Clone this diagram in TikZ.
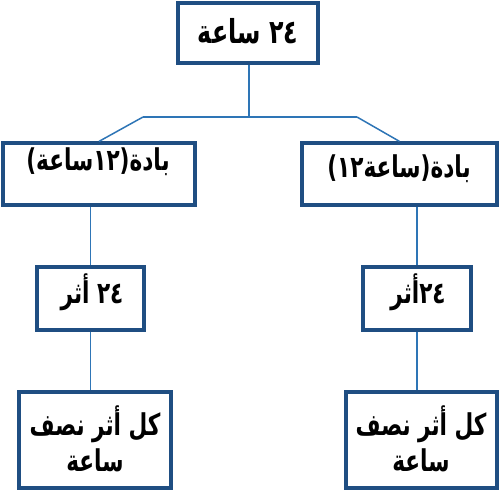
\documentclass[tikz,border=0pt]{standalone}
\usepackage{fontspec}
\TeXXeTstate=1
\newfontfamily\arabicfont[Script=Arabic,FakeStretch=0.72]{DejaVu Sans}
\definecolor{boxblue}{RGB}{31,78,130}
\definecolor{lineblue}{RGB}{46,117,182}
\tikzset{
  box/.style={draw=boxblue, line width=3.2pt, fill=white, rectangle, inner sep=0pt},
  txt/.style={font=\arabicfont\bfseries\fontsize{30}{36}\selectfont, text=black, align=center, inner sep=0pt},
  bigtxt/.style={txt, font=\arabicfont\bfseries\fontsize{33}{40}\selectfont},
  conn/.style={draw=lineblue, line width=1.5pt},
}
\begin{document}
\begin{tikzpicture}[x=1pt,y=-1pt]
\useasboundingbox (0,0) rectangle (500,491);
% boxes
\node[box, minimum width=140pt, minimum height=60pt] (top) at (248,33) {};
\node[box, minimum width=192pt, minimum height=62pt] (lmid) at (99,174) {};
\node[box, minimum width=195pt, minimum height=62pt] (rmid) at (399.5,174) {};
\node[box, minimum width=107pt, minimum height=63pt] (lsm) at (90.5,298.5) {};
\node[box, minimum width=108pt, minimum height=63pt] (rsm) at (417,298.5) {};
\node[box, minimum width=152pt, minimum height=96pt] (lbot) at (95,440) {};
\node[box, minimum width=151pt, minimum height=96pt] (rbot) at (421.5,440) {};
% texts
\node[bigtxt] (topt) at (248,31) {\beginR ٢٤ ساعة\endR};
\node[txt] (lmidt) at (98,162) {\beginR بادة(١٢ساعة)\endR};
\node[txt] (rmidt) at (399,169) {\beginR بادة(ساعة١٢)\endR};
\node[txt] (lsmt) at (92,292) {\beginR ٢٤ أثر\endR};
\node[txt] (rsmt) at (418,292) {\beginR ٢٤أثر\endR};
\node[txt] (lbott) at (95,439) {\beginR كل أثر نصف\endR\\\beginR ساعة\endR};
\node[txt] (rbott) at (421,439) {\beginR كل أثر نصف\endR\\\beginR ساعة\endR};
% connectors
\coordinate (j) at (249,117);
\coordinate (jl) at (143,117);
\coordinate (jr) at (357,117);
\draw[conn] (top.south -| j) -- (j);
\draw[conn] (jl) -- (jr);
\draw[conn] (jl) -- (lmid.north);
\draw[conn] (jr) -- (rmid.north);
\draw[conn] (lsm.north |- lmid.south) -- (lsm.north);
\draw[conn] (lsm.south) -- (lsm.south |- lbot.north);
\draw[conn] (rsm.north |- rmid.south) -- (rsm.north);
\draw[conn] (rsm.south) -- (rsm.south |- rbot.north);
\end{tikzpicture}
\end{document}
